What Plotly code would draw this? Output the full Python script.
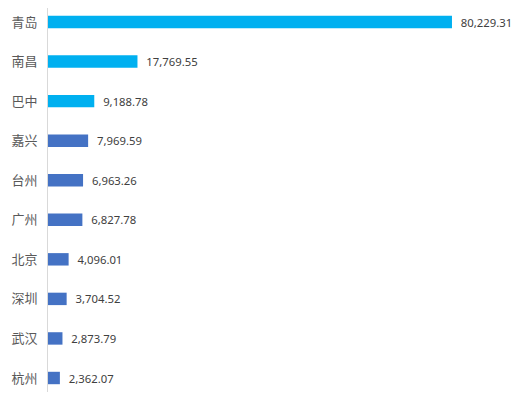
import plotly.graph_objects as go

# ---------------------------
# DATA
# ---------------------------
cities = ["青岛", "南昌", "巴中", "嘉兴", "台州", "广州", "北京", "深圳", "武汉", "杭州"]
values = [80229.31, 17769.55, 9188.78, 7969.59, 6963.26, 6827.78, 4096.01, 3704.52, 2873.79, 2362.07]
highlight = 3  # first n bars in light blue

colors = ["#00B0F0" if i < highlight else "#4472C4" for i in range(len(cities))]
labels = ["\u00a0\u00a0" + f"{v:,.2f}" for v in values]

# ---------------------------
# FIGURE
# ---------------------------
# page body keeps an 8px margin, so the figure is sized to fit inside the 520x400 window
fig = go.Figure(go.Bar(
    x=values,
    y=list(range(len(cities))),
    orientation="h",
    marker=dict(color=colors, line_width=0),
    text=labels,
    textposition="outside",
    constraintext="none",
    cliponaxis=False,
    textfont=dict(family="Noto Sans, sans-serif", size=11.3, color="#404040"),
))

fig.update_layout(
    width=504,
    height=384,
    margin=dict(l=40, r=0, t=0, b=0),
    plot_bgcolor="white",
    paper_bgcolor="white",
    bargap=0.686,
    showlegend=False,
    font=dict(family="Noto Sans CJK SC, sans-serif", color="#595959"),
    xaxis=dict(range=[0, 92150], visible=False),
    yaxis=dict(
        range=[9.354, -0.354],
        tickmode="array",
        tickvals=list(range(len(cities))),
        ticktext=cities,
        showline=True,
        linecolor="#D9D9D9",
        linewidth=1,
        ticks="",
        ticklabelstandoff=7,
        automargin=False,
        tickfont=dict(size=13, color="#595959"),
        showgrid=False,
        zeroline=False,
    ),
)

fig.write_html("out.html")
